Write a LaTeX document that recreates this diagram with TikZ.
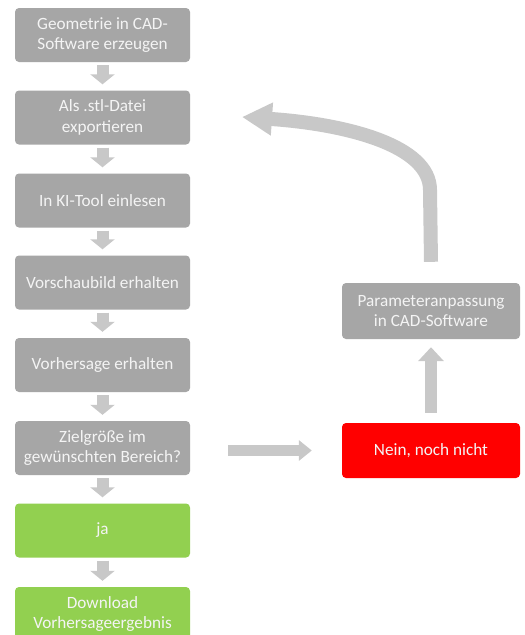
\documentclass[tikz,border=0pt]{standalone}
\usepackage{fontspec}
\setmainfont{Carlito}
\usetikzlibrary{arrows.meta}
\definecolor{boxgray}{HTML}{A6A6A6}
\definecolor{arrowgray}{HTML}{C8C8C8}
\definecolor{boxgreen}{HTML}{92D050}
\definecolor{boxred}{HTML}{FF0000}
\definecolor{txt}{HTML}{F4F4F4}
\tikzset{
  stepbox/.style={fill=boxgray, rounded corners=4pt, minimum width=175pt, minimum height=54pt,
    inner sep=0pt, align=center, text=txt, font=\fontsize{17.2}{20.5}\selectfont},
  greenbox/.style={stepbox, fill=boxgreen},
  redbox/.style={stepbox, fill=boxred, minimum width=178pt, minimum height=55pt},
  sidebox/.style={stepbox, minimum width=178pt, minimum height=56pt},
  downarrow/.style={draw=arrowgray, line width=12pt, -{Triangle[width=24pt,length=10pt]},
    shorten <=3pt, shorten >=6pt},
  bigarrow/.style={draw=arrowgray, line width=12pt, -{Triangle[width=25pt,length=14pt]}},
  loopshaft/.style={draw=arrowgray, line width=14pt, -{Triangle[width=31pt,length=30pt]}}
}
\begin{document}
\begin{tikzpicture}[x=1pt,y=-1pt]
\useasboundingbox (0,0) rectangle (525,635);
\fill[white] (0,0) rectangle (525,635);
\clip (0,0) rectangle (525,635);
\node[stepbox] (b1) at (102.5,35) {Geometrie in CAD-\\Software erzeugen};
\node[stepbox] (b2) at (102.5,117.5) {Als .stl-Datei\\exportieren};
\node[stepbox] (b3) at (102.5,200.5) {In KI-Tool einlesen};
\node[stepbox] (b4) at (102.5,282.5) {Vorschaubild erhalten};
\node[stepbox] (b5) at (102.5,365) {Vorhersage erhalten};
\node[stepbox] (b6) at (102.5,448) {Zielgröße im\\gewünschten Bereich?};
\node[greenbox] (b7) at (102.5,530.5) {ja};
\node[greenbox] (b8) at (102.5,614) {Download\\Vorhersageergebnis};
\node[redbox] (no) at (431,450.5) {Nein, noch nicht};
\node[sidebox] (pa) at (431,311) {Parameteranpassung\\in CAD-Software};
\coordinate (loopend) at (242,117);
\draw[downarrow] (b1) -- (b2);
\draw[downarrow] (b2) -- (b3);
\draw[downarrow] (b3) -- (b4);
\draw[downarrow] (b4) -- (b5);
\draw[downarrow] (b5) -- (b6);
\draw[downarrow] (b6) -- (b7);
\draw[downarrow] (b7) -- (b8);
\draw[bigarrow, -{Triangle[width=20pt,length=13pt]}, line width=11pt, shorten <=38pt, shorten >=30pt] (b6.east |- no) -- (no.west);
\draw[bigarrow, shorten <=10pt, shorten >=8pt] (no.north) -- (pa.south);
\draw[loopshaft] ([yshift=21pt]pa.north) -- (430,190) .. controls (430,145) and (345,124) .. (loopend);
\end{tikzpicture}
\end{document}
